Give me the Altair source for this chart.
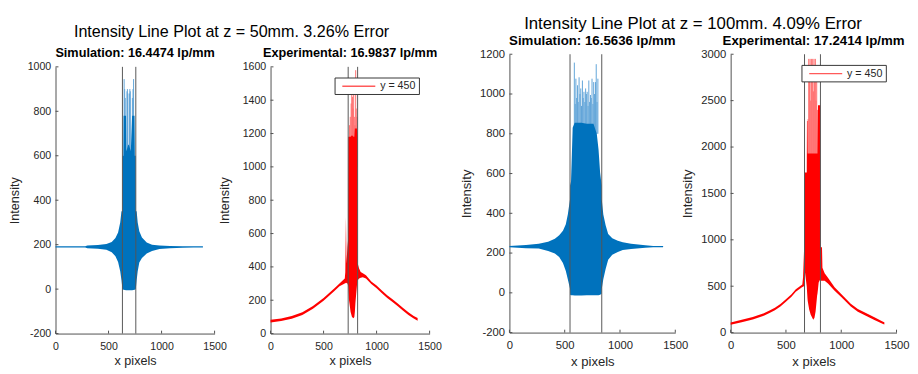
import altair as alt
import pandas as pd

FONT = "Liberation Sans"
BLUE = "#0072BD"
BLUE_LIGHT = "#5fa3d8"
RED = "#FF0000"
RED_LIGHT = "#ff6a6a"
AXIS = "#4d4d4d"
TXT = "#262626"

X_TICKS = [0, 500, 1000, 1500]

# ---------- z = 50 mm, simulation ----------
SIM50_X = [0, 280, 300, 400, 480, 530, 565, 590, 610, 622, 631, 632, 640, 642, 665, 668, 686, 692, 710, 722,
           745, 748, 756, 757, 765, 775, 790, 815, 860, 910, 980, 1080, 1200, 1300, 1390]
SIM50_UP = [193, 193, 196, 198, 203, 212, 230, 255, 300, 350, 350, 600, 600, 780, 780, 620, 650, 650, 620, 780,
            780, 600, 600, 350, 350, 300, 260, 232, 210, 200, 196, 194, 193, 193, 193]
SIM50_LO = [187, 187, 184, 182, 177, 166, 148, 122, 80, 40, 0, 0, -3, -3, -5, -5, -5, -5, -5, -5,
            -3, -3, 0, 0, 40, 80, 120, 140, 160, 172, 180, 184, 186, 187, 187]
SIM50_SPIKE_X = [647, 652, 657, 674, 678, 682, 697, 701, 705, 725, 731, 736]
SIM50_SPIKE_TOP = [945, 900, 860, 890, 900, 880, 880, 900, 890, 860, 900, 945]
SIM50_SPIKE_BASE = 600
SIM50_MARKS = [631, 757]
SIM50_Y_TICKS = [-200, 0, 200, 400, 600, 800, 1000]

# ---------- z = 50 mm, experimental ----------
EXP50_X = [0, 100, 200, 300, 400, 500, 600, 650, 700, 705, 711, 716, 725, 731, 733, 740, 755, 768, 782, 790,
           795, 800, 808, 815, 820, 822, 835, 850, 870, 900, 950, 1000, 1050, 1100, 1150, 1200, 1250, 1300,
           1350, 1387]
EXP50_UP = [83, 91, 105, 128, 165, 213, 270, 300, 330, 370, 700, 420, 520, 560, 1180, 1180, 1180, 1190, 1180,
            1180, 1230, 1230, 1230, 1230, 1180, 420, 390, 370, 362, 350, 313, 288, 258, 230, 206, 180, 153,
            128, 106, 93]
EXP50_LO = [67, 75, 89, 112, 149, 197, 254, 284, 300, 305, 300, 305, 300, 290, 280, 200, 130, 100, 92, 100,
            130, 180, 240, 290, 320, 320, 330, 335, 338, 330, 297, 272, 242, 214, 190, 164, 137, 112, 90, 77]
EXP50_SPIKE_X = [745, 752, 760, 766, 772, 778, 784, 790, 796, 803, 808, 814]
EXP50_SPIKE_TOP = [1250, 1300, 1380, 1440, 1420, 1350, 1440, 1300, 1250, 1580, 1350, 1300]
EXP50_SPIKE_BASE = 1000
EXP50_MARKS = [732, 821]
EXP50_Y_TICKS = [0, 200, 400, 600, 800, 1000, 1200, 1400, 1600]

# ---------- z = 100 mm, simulation ----------
SIM100_X = [0, 150, 265, 350, 411, 450, 484, 510, 528, 540, 548, 549, 557, 572, 590, 650, 700, 760, 790, 806,
            820, 834, 835, 849, 870, 893, 930, 980, 1025, 1100, 1229, 1300, 1390]
SIM100_UP = [235, 240, 247, 257, 272, 290, 312, 345, 394, 440, 470, 540, 560, 830, 855, 855, 850, 850, 800,
             720, 605, 540, 470, 394, 340, 296, 275, 262, 255, 247, 239, 236, 235]
SIM100_LO = [229, 224, 223, 210, 198, 180, 150, 110, 68, 40, 20, -10, -12, -12, -13, -13, -12, -12, -12, -12,
             -10, -5, 20, 68, 120, 166, 192, 205, 215, 220, 227, 229, 229]
SIM100_SPIKE_X = [587, 595, 601, 608, 616, 622, 630, 638, 645, 652, 660, 667, 674, 682, 689, 696, 703, 711,
                  718, 725, 733, 740, 747, 755, 762, 770, 778, 785, 792, 800]
SIM100_SPIKE_TOP = [1158, 950, 1077, 980, 1044, 960, 1084, 1000, 1028, 940, 1068, 980, 1011, 960, 1028, 1000,
                    1011, 940, 1068, 960, 995, 980, 1077, 950, 1060, 1000, 1060, 1150, 960, 1077]
SIM100_SPIKE_BASE = 800
SIM100_MARKS = [548, 835]
SIM100_Y_TICKS = [-200, 0, 200, 400, 600, 800, 1000, 1200]

# ---------- z = 100 mm, experimental ----------
EXP100_X = [0, 100, 200, 300, 356, 400, 450, 502, 550, 589, 620, 648, 655, 660, 664, 667, 669, 688, 690, 695,
            697, 710, 724, 747, 758, 768, 782, 785, 790, 796, 808, 811, 813, 826, 830, 850, 880, 940, 1000,
            1086, 1150, 1232, 1300, 1378, 1390]
EXP100_UP = [110, 138, 168, 208, 240, 268, 308, 361, 413, 466, 493, 518, 600, 880, 560, 540, 1725, 1725, 2280,
             2280, 1930, 1930, 1930, 1930, 1930, 1930, 1930, 1930, 2450, 2450, 2450, 2450, 920, 920, 700, 640,
             590, 490, 415, 310, 255, 205, 165, 118, 112]
EXP100_LO = [84, 112, 142, 182, 214, 242, 282, 335, 387, 440, 467, 492, 495, 500, 500, 505, 680, 500, 460, 366,
             340, 250, 192, 139, 160, 227, 400, 420, 470, 540, 570, 575, 560, 560, 560, 560, 530, 450, 385,
             282, 225, 177, 137, 92, 88]
EXP100_SPIKE_X = [700, 706, 712, 718, 724, 730, 736, 742, 748, 754, 760, 766, 772, 778, 784]
EXP100_SPIKE_TOP = [2300, 2950, 2700, 2950, 2500, 2950, 2750, 2950, 2600, 2950, 2700, 2950, 2500, 2800, 2400]
EXP100_SPIKE_BASE = 1700
EXP100_MARKS = [668, 812]
EXP100_Y_TICKS = [0, 500, 1000, 1500, 2000, 2500, 3000]

LEGEND_LABEL = "y = 450"
TITLE_50 = "Intensity Line Plot at z = 50mm. 3.26% Error"
TITLE_100 = "Intensity Line Plot at z = 100mm. 4.09% Error"


def panel(title, xs, up, lo, spx, sptop, spbase, marks, yticks, w, h, color, spike_color,
          fs_sub, fs_lab, fs_tit, ytitle_pad=6, legend=False):
    xsc = alt.Scale(domain=[0, 1500], nice=False, zero=False)
    ysc = alt.Scale(domain=[yticks[0], yticks[-1]], nice=False, zero=False)
    sig = pd.DataFrame({"x": xs, "up": up, "lo": lo, "s": [LEGEND_LABEL] * len(xs)})
    spk = pd.DataFrame({"x": spx, "top": sptop, "base": [spbase] * len(spx)})
    mk = pd.DataFrame({"m": marks})
    xt = pd.DataFrame({"t": X_TICKS})
    yt = pd.DataFrame({"t": yticks})

    xaxis = alt.Axis(values=X_TICKS, title="x pixels", labelExpr="'' + datum.value", grid=False,
                     tickSize=0, labelFlush=False, labelPadding=7, titlePadding=4, domainColor=AXIS,
                     labelColor=TXT, titleColor=TXT, labelFontSize=fs_lab, titleFontSize=fs_tit,
                     titleFontWeight="normal")
    yaxis = alt.Axis(values=yticks, title="Intensity", labelExpr="'' + datum.value", grid=False,
                     tickSize=0, labelFlush=False, labelPadding=5, titlePadding=ytitle_pad,
                     domainColor=AXIS, labelColor=TXT, titleColor=TXT, labelFontSize=fs_lab,
                     titleFontSize=fs_tit, titleFontWeight="normal")

    spikes = alt.Chart(spk).mark_rule(color=spike_color, strokeWidth=1).encode(
        x=alt.X("x:Q", scale=xsc, axis=xaxis),
        y=alt.Y("base:Q", scale=ysc, axis=yaxis),
        y2="top:Q",
    )
    if legend:
        area = alt.Chart(sig).mark_area(interpolate="linear").encode(
            x=alt.X("x:Q", scale=xsc, axis=xaxis),
            y=alt.Y("up:Q", scale=ysc, axis=yaxis),
            y2="lo:Q",
            color=alt.Color("s:N", scale=alt.Scale(domain=[LEGEND_LABEL], range=[color]),
                            legend=alt.Legend(title=None, orient="top-right", offset=11,
                                              symbolType="M-0.2,0H6.6", symbolSize=100,
                                              symbolStrokeColor="#ff5a5a", symbolStrokeWidth=1.5,
                                              labelFontSize=11, labelColor=TXT, labelFont=FONT,
                                              labelOffset=32, strokeColor="#333333",
                                              fillColor="white", padding=3)),
        )
    else:
        area = alt.Chart(sig).mark_area(interpolate="linear", color=color).encode(
            x=alt.X("x:Q", scale=xsc, axis=xaxis),
            y=alt.Y("up:Q", scale=ysc, axis=yaxis),
            y2="lo:Q",
        )
    lines = alt.Chart(mk).mark_rule(color="#555555", strokeWidth=1).encode(
        x=alt.X("m:Q", scale=xsc, axis=xaxis)
    )
    xticks = alt.Chart(xt).mark_rule(color=AXIS, strokeWidth=1).encode(
        x=alt.X("t:Q", scale=xsc, axis=xaxis), y=alt.value(h), y2=alt.value(h - 3)
    )
    yticks_l = alt.Chart(yt).mark_rule(color=AXIS, strokeWidth=1).encode(
        y=alt.Y("t:Q", scale=ysc, axis=yaxis), x=alt.value(0), x2=alt.value(3)
    )
    return alt.layer(spikes, area, lines, xticks, yticks_l).properties(
        width=w, height=h,
        title=alt.Title(title, fontSize=fs_sub, fontWeight="bold", font=FONT, color="#000000", offset=1,
                        anchor="middle"),
    )


def header(text, w, h, fs, off):
    # invisible strip that carries the figure title underneath it
    return alt.Chart(pd.DataFrame({"v": [0]})).mark_rule(opacity=0, strokeWidth=0).encode(
        x=alt.value(0), y=alt.value(0), y2=alt.value(0)
    ).properties(
        width=w, height=h,
        title=alt.Title(text, orient="bottom", anchor="middle", fontSize=fs, fontWeight="normal",
                        font=FONT, color="#000000", offset=off),
    )


pA = panel("Simulation: 16.4474 lp/mm", SIM50_X, SIM50_UP, SIM50_LO, SIM50_SPIKE_X, SIM50_SPIKE_TOP,
           SIM50_SPIKE_BASE, SIM50_MARKS, SIM50_Y_TICKS, 164, 275, BLUE, BLUE_LIGHT, 13.1, 10.9, 13)
pB = panel("Experimental: 16.9837 lp/mm", EXP50_X, EXP50_UP, EXP50_LO, EXP50_SPIKE_X,
           EXP50_SPIKE_TOP, EXP50_SPIKE_BASE, EXP50_MARKS, EXP50_Y_TICKS, 164, 275, RED, RED_LIGHT,
           13.1, 10.9, 13, ytitle_pad=11, legend=True)
pC = panel("Simulation: 16.5636 lp/mm", SIM100_X, SIM100_UP, SIM100_LO, SIM100_SPIKE_X, SIM100_SPIKE_TOP,
           SIM100_SPIKE_BASE, SIM100_MARKS, SIM100_Y_TICKS, 171, 287, BLUE, BLUE_LIGHT, 13.7, 11.6, 13.5)
pD = panel("Experimental: 17.2414 lp/mm", EXP100_X, EXP100_UP, EXP100_LO, EXP100_SPIKE_X, EXP100_SPIKE_TOP,
           EXP100_SPIKE_BASE, EXP100_MARKS, EXP100_Y_TICKS, 171, 287, RED, RED_LIGHT, 13.7, 11.6, 13.5,
           ytitle_pad=7, legend=True)

row1 = alt.hconcat(pA, pB, spacing=-9.3).resolve_scale(x="independent", y="independent",
                                                       color="independent")
row2 = alt.hconcat(pC, pD, spacing=-9.9).resolve_scale(x="independent", y="independent",
                                                       color="independent")

g1 = alt.vconcat(header(TITLE_50, 363, 7, 16.6, 3.6), row1, spacing=5).resolve_scale(
    x="independent", y="independent", color="independent")
g2 = alt.vconcat(header(TITLE_100, 378.6, 1, 17.3, 0), row2, spacing=0).resolve_scale(
    x="independent", y="independent", color="independent")

chart = alt.hconcat(g1, g2, spacing=17).resolve_scale(
    x="independent", y="independent", color="independent"
).properties(
    padding={"left": 0, "top": 0, "right": 0, "bottom": 0}
).configure(font=FONT).configure_view(stroke="transparent")

chart.save("out.html", embed_options={"renderer": "svg", "actions": False})
